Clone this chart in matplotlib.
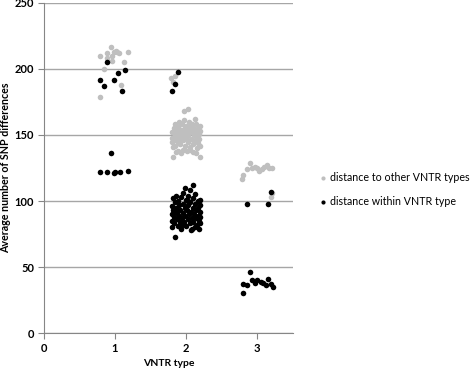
import numpy as np
import matplotlib
matplotlib.use('Agg')
import matplotlib.pyplot as plt

# distance to other VNTR types (grey)
other1_x=[0.79,0.79,0.85,0.89,0.89,0.94,0.96,0.96,0.99,1.01,1.03,1.06,1.09,1.13,1.18]
other1_y=[210,179,200,212,208,217,210,206,213,214,213,212,188,205,213]
other2_x=[1.82,1.85,1.79,
          1.80,1.80,1.80,1.81,1.82,1.83,1.84,1.84,1.85,1.85,1.87,1.87,1.88,1.88,1.89,
          1.90,1.91,1.91,1.92,1.93,1.94,1.95,1.95,1.96,1.97,1.98,1.98,1.99,2.00,2.00,
          2.01,2.02,2.03,2.03,2.04,2.05,2.06,2.07,2.07,2.08,2.09,2.10,2.10,2.11,2.12,
          2.12,2.13,2.14,2.15,2.15,2.16,2.17,2.18,2.18,2.19,2.20,2.20,2.20,1.97,2.02,
          1.93,2.05,2.14,1.86]
other2_y=[190,195,193,
          148,152,145,141,133,155,150,146,158,142,153,149,144,138,156,
          160,151,147,143,154,158,150,139,146,161,155,152,142,157,148,
          138,154,150,145,160,156,141,152,147,158,137,155,143,150,162,
          146,153,158,140,149,155,144,151,147,157,153,142,133,168,170,
          136,139,136,137]
other3_x=[2.79,2.80,2.85,2.90,2.93,2.97,2.99,3.03,3.07,3.10,3.14,3.17,3.21,3.20,3.21]
other3_y=[117,120,124,129,125,126,125,123,124,126,127,125,125,103,106]

# distance within VNTR type (black)
within1_x=[0.79,0.85,0.89,0.99,1.04,1.10,1.14,0.94,0.79,0.89,0.99,1.00,1.07,1.18]
within1_y=[192,187,205,192,197,183,199,136,122,122,121,122,122,123]
within2_x=[1.89,1.85,1.80,
           1.80,1.80,1.80,1.80,1.81,1.82,1.83,1.83,1.84,1.85,1.86,1.86,1.87,1.87,1.88,
           1.89,1.90,1.90,1.91,1.92,1.93,1.93,1.94,1.95,1.95,1.96,1.97,1.98,1.99,2.00,
           2.00,2.01,2.02,2.03,2.03,2.04,2.05,2.06,2.06,2.07,2.08,2.08,2.09,2.10,2.10,
           2.11,2.12,2.12,2.13,2.14,2.14,2.15,2.16,2.16,2.17,2.18,2.18,2.19,2.19,2.20,
           2.20,2.20,1.98,2.10,2.07,1.94,1.84,2.02]
within2_y=[198,189,183,
           96,90,85,80,102,93,88,83,99,73,104,95,91,86,81,
           100,97,89,84,93,103,79,87,98,91,106,84,95,89,101,
           81,93,86,104,97,90,83,108,99,92,87,79,102,95,84,
           90,98,80,105,93,87,82,100,95,89,85,79,97,92,101,
           88,83,110,112,78,82,92,100]
within3_x=[2.85,3.15,3.20,2.80,2.80,2.85,2.90,2.93,2.97,3.00,3.05,3.08,3.12,3.15,3.20,3.22]
within3_y=[98,98,107,30,37,36,46,40,38,40,39,38,36,41,37,35]

plt.rcParams['font.family']=['Lato','DejaVu Sans']
fig=plt.figure(figsize=(4.73,3.74),dpi=100)
ax=fig.add_axes([0.093,0.1096,0.526,0.8824])
grey='#bfbfbf'
ax.scatter(other1_x+other2_x+other3_x,other1_y+other2_y+other3_y,s=16,c=grey,
           linewidths=0,label='distance to other VNTR types',zorder=3)
ax.scatter(within1_x+within2_x+within3_x,within1_y+within2_y+within3_y,s=16,c='k',
           linewidths=0,label='distance within VNTR type',zorder=4)
ax.set_xlim(0,3.5)
ax.set_ylim(0,250)
ax.set_xticks([0,1,2,3])
ax.set_yticks([0,50,100,150,200,250])
ax.yaxis.grid(True,color='#a6a6a6',linewidth=1)
ax.set_axisbelow(True)
for s in ['top','right']:
    ax.spines[s].set_visible(False)
for s in ['left','bottom']:
    ax.spines[s].set_color('#868686')
ax.tick_params(axis='both',direction='out',length=4,color='#868686',labelsize=8,pad=3)
for t in ax.get_xticklabels()+ax.get_yticklabels():
    t.set_fontweight('bold')
ax.set_xlabel('VNTR type',fontsize=7.5,fontweight='bold',labelpad=4)
ax.set_ylabel('Average number of SNP differences',fontsize=7.7,fontweight='bold',labelpad=3)
fig.legend(loc='center left',bbox_to_anchor=(0.657,0.493),frameon=False,fontsize=7.7,
           handletextpad=0.0,handlelength=1.3,labelspacing=1.25,markerscale=0.75,borderpad=0)
fig.savefig('out.png',dpi=100)
